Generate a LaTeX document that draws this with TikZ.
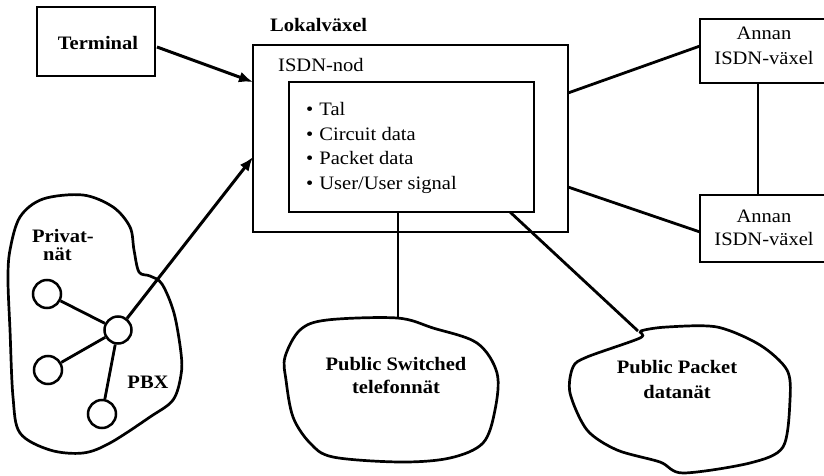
\documentclass[tikz,border=0pt]{standalone}
\usepackage{fontspec}
\setmainfont{Liberation Serif}[FakeStretch=1.08]
\usetikzlibrary{arrows.meta,calc}
\begin{document}
\begin{tikzpicture}[x=1pt,y=-1pt,
  box/.style={draw,line width=2.6pt,inner sep=0pt},
  conn/.style={line width=2.8pt},
  thin/.style={line width=2.2pt},
  arr/.style={line width=3pt,-{Latex[length=14pt,width=11pt]}},
  nodec/.style={circle,draw,line width=2.5pt,inner sep=0pt},
  cloud/.style={draw,line width=2.7pt},
  lbl/.style={font=\fontsize{19}{22}\selectfont\bfseries,inner sep=0pt},
  lblr/.style={font=\fontsize{19}{22}\selectfont,inner sep=0pt}]
\useasboundingbox (0,0) rectangle (824,476);
% boxes
\node[box,minimum width=118pt,minimum height=69pt] (terminal) at (96,41.5) {};
\node[lbl,anchor=base] (terminalt) at (98,50) {Terminal};
\node[box,minimum width=315pt,minimum height=187pt] (outer) at (410.5,138.5) {};
\node[box,minimum width=245pt,minimum height=130pt] (inner) at (411.5,147) {};
\node[lbl,anchor=base west] (lokal) at (270,32) {Lokalväxel};
\node[lblr,anchor=base west] (isdnnod) at (278,72) {ISDN-nod};
\node[lblr,anchor=base west] (item1) at (306,116) {•\hspace{6pt}Tal};
\node[lblr,anchor=base west] (item2) at (306,140) {•\hspace{6pt}Circuit data};
\node[lblr,anchor=base west] (item3) at (306,164) {•\hspace{6pt}Packet data};
\node[lblr,anchor=base west] (item4) at (306,189) {•\hspace{6pt}User/User signal};
\node[box,minimum width=130pt,minimum height=64pt] (annan1) at (765,51) {};
\node[lblr,anchor=base] (annan1a) at (764,40) {Annan};
\node[lblr,anchor=base] (annan1b) at (764,65) {ISDN-växel};
\node[box,minimum width=130pt,minimum height=67pt] (annan2) at (765,228.5) {};
\node[lblr,anchor=base] (annan2a) at (764,222) {Annan};
\node[lblr,anchor=base] (annan2b) at (764,245) {ISDN-växel};
% private network cloud
\draw[cloud] plot[smooth cycle,tension=0.55] coordinates {
 (10,250) (20,217) (43,199) (83,195) (113,207) (130,227) (134,250) (139,272)
 (150,276) (162,284) (174,313) (181,353) (181,375) (173,400) (150,417) (110,443)
 (83,453) (50,450) (20,433) (13,397) (10,330) (8,280)};
\node[lbl,anchor=base west] (privat) at (32,242) {Privat-};
\node[lbl,anchor=base west] (nat) at (43,260) {nät};
\node[lbl,anchor=base] (pbx) at (148,388) {PBX};
\node[nodec,minimum size=27pt] (c0) at (118,330) {};
\node[nodec,minimum size=28pt] (c1) at (47,294) {};
\node[nodec,minimum size=28pt] (c2) at (48,370) {};
\node[nodec,minimum size=28pt] (c3) at (102,414) {};
\draw[conn] (c0) -- (c1);
\draw[conn] (c0) -- (c2);
\draw[conn] (c0) -- (c3);
% PSTN cloud
\draw[cloud] plot[smooth cycle,tension=0.55] coordinates {
 (300,330) (327,320) (397,318) (433,328) (477,343) (497,373) (495,410) (483,443)
 (450,458) (400,462) (333,457) (310,443) (293,417) (286,380) (285,357)};
\node[lbl,anchor=base] (pstn1) at (396,370) {Public Switched};
\node[lbl,anchor=base] (pstn2) at (396,393) {telefonnät};
% Packet cloud
\draw[cloud] plot[smooth cycle,tension=0.5] coordinates {
 (641,331) (667,327) (717,327) (760,345) (787,370) (790,400) (783,447) (750,463)
 (683,473) (660,462) (617,450) (587,430) (570,393) (573,367) (587,357) (640,338)};
\node[lbl,anchor=base] (ppdn1) at (677,373) {Public Packet};
\node[lbl,anchor=base] (ppdn2) at (677,398) {datanät};
% connection points
\coordinate (tin) at (253,82);
\coordinate (pin) at (253,157);
\coordinate (tout) at (157,47);
\coordinate (r1) at (568,93);
\coordinate (r2) at (568,187);
\coordinate (a1) at (700,46);
\coordinate (a2) at (700,232);
\coordinate (v1) at (758,83);
\coordinate (v2) at (758,195);
\coordinate (b1) at (398,212);
\coordinate (pstntop) at (398,318);
\coordinate (b2) at (510,212);
\coordinate (ppdntop) at (638,331);
% connectors
\draw[arr] (tout) -- (tin);
\draw[arr] (c0) -- (pin);
\draw[conn] (r1) -- (a1);
\draw[conn] (r2) -- (a2);
\draw[thin] (v1) -- (v2);
\draw[thin] (b1) -- (pstntop);
\draw[conn] (b2) -- (ppdntop);
\end{tikzpicture}
\end{document}
